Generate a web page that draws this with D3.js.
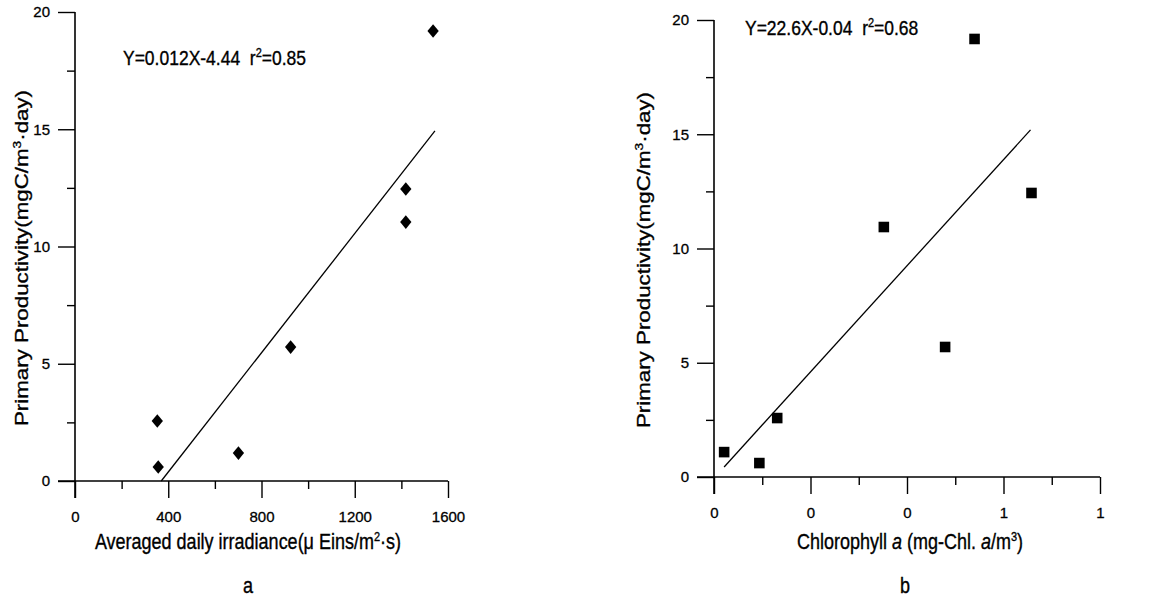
<!DOCTYPE html>
<html>
<head>
<meta charset="utf-8">
<script src="https://cdn.jsdelivr.net/npm/d3@7"></script>
<style>
  body { margin: 0; background: #fff; }
  svg text { font-family: "Liberation Sans", Arial, sans-serif; fill: #000; stroke: #000; stroke-width: 0.3; }
</style>
</head>
<body>
<div id="canvas"></div>
<script>
"use strict";

// panel a: irradiance vs productivity
const irradiance = [353, 357, 701, 925, 1419, 1419, 1536];
const productivityA = [2.56, 0.6, 1.19, 5.71, 12.45, 11.04, 19.19];
const fitA = [[370, 0], [1544, 14.93]];
const xTicksA = [0, 400, 800, 1200, 1600];
const xMinorA = [200, 600, 1000, 1400];

// panel b: chlorophyll vs productivity
const chlorophyll = [0.021, 0.094, 0.131, 0.352, 0.479, 0.540, 0.658];
const productivityB = [1.09, 0.61, 2.58, 10.94, 5.69, 19.17, 12.43];
const fitB = [[0.021, 0.44], [0.656, 15.19]];
const xTicksB = [0, 0.2, 0.4, 0.6, 0.8];
const xTickLabelsB = ["0", "0", "0", "1", "1"];
const xMinorB = [0.1, 0.3, 0.5, 0.7];

const yTicks = [0, 5, 10, 15, 20];
const yMinor = [2.5, 7.5, 12.5, 17.5];

let drawing = d3.select("#canvas")
    .append("svg")
    .attr("width", 1166)
    .attr("height", 596);

drawing.append("rect")
    .attr("width", 1166)
    .attr("height", 596)
    .attr("fill", "#fff");

// scanned figure is a bit taller than wide, so text gets stretched vertically
const stretch = 1.2;

function supText(t, parts) {
    // parts: [text, "sup"|"it"|"down"]
    parts.forEach(p => {
        let s = t.append("tspan").text(p[0]);
        if (p[1] == "sup") s.attr("font-size", 11).attr("dy", -7);
        if (p[1] == "it") s.attr("font-style", "italic");
        if (p[1] == "down") s.attr("dy", 7);
    });
}

function drawPanel(opt) {
    let g = drawing.append("g");
    let x = d3.scaleLinear().domain(opt.xDomain).range(opt.xRange);
    let y = d3.scaleLinear().domain([0, 20]).range(opt.yRange);
    let x0 = x(0), y0 = y(0);

    // y axis
    g.append("g").attr("transform", `translate(${x0},0)`)
        .call(d3.axisLeft(y).tickValues(yTicks).tickSize(17).tickPadding(8).tickFormat(d3.format("d")))
        .select(".domain").remove();
    g.append("g").attr("transform", `translate(${x0},0)`)
        .call(d3.axisLeft(y).tickValues(yMinor).tickSize(8).tickFormat(""))
        .select(".domain").remove();

    // x axis
    g.append("g").attr("transform", `translate(0,${y0})`)
        .call(d3.axisBottom(x).tickValues(opt.xTicks).tickSize(17).tickPadding(13)
            .tickFormat((d, i) => opt.xLabels[i]))
        .select(".domain").remove();
    g.append("g").attr("transform", `translate(0,${y0})`)
        .call(d3.axisBottom(x).tickValues(opt.xMinor).tickSize(8).tickFormat(""))
        .select(".domain").remove();

    g.selectAll(".tick line").attr("stroke", "#000").attr("stroke-width", 1.4);
    g.selectAll(".tick text").attr("font-size", 15).attr("font-family", null);

    // axis lines
    g.append("line").attr("x1", x0).attr("x2", x0).attr("y1", y(20)).attr("y2", y0 + 17)
        .attr("stroke", "#000").attr("stroke-width", 1.6);
    g.append("line").attr("x1", x0 - 17).attr("x2", x(opt.xDomain[1])).attr("y1", y0).attr("y2", y0)
        .attr("stroke", "#000").attr("stroke-width", 1.6);

    // fit line
    g.append("line")
        .attr("x1", x(opt.fit[0][0])).attr("y1", y(opt.fit[0][1]))
        .attr("x2", x(opt.fit[1][0])).attr("y2", y(opt.fit[1][1]))
        .attr("stroke", "#000").attr("stroke-width", 1.3);

    // points
    let sym = d3.symbol().type(d3.symbolSquare).size(opt.symbolSize);
    g.selectAll(".pt").data(opt.xs).enter().append("path")
        .attr("class", "pt")
        .attr("d", sym)
        .attr("transform", (d, i) => `translate(${x(d)},${y(opt.ys[i])})` +
            (opt.rotate ? ` scale(1,${stretch}) rotate(45)` : ""))
        .attr("fill", "#000");

    // equation
    let eq = g.append("text")
        .attr("transform", `translate(${opt.eqPos[0]},${opt.eqPos[1]}) scale(1,${stretch})`)
        .attr("font-size", 17.5);
    supText(eq, [[opt.eq[0] + "\u00a0\u00a0r"], ["2", "sup"], ["=" + opt.eq[1], "down"]]);

    // y title
    let yt = g.append("text")
        .attr("transform", `translate(${opt.yTitlePos[0]},${opt.yTitlePos[1]}) rotate(-90) scale(1.24,1)`)
        .attr("text-anchor", "middle").attr("font-size", 18);
    supText(yt, [["Primary Productivity(mgC/m"], ["3", "sup"], ["·day)", "down"]]);

    // x title
    let xt = g.append("text")
        .attr("transform", `translate(${opt.xTitlePos[0]},${opt.xTitlePos[1]}) scale(1,${stretch})`)
        .attr("text-anchor", "middle").attr("font-size", 18);
    supText(xt, opt.xTitle);

    g.append("text")
        .attr("transform", `translate(${opt.panelPos[0]},${opt.panelPos[1]}) scale(1,${stretch})`)
        .attr("text-anchor", "middle").attr("font-size", 18).text(opt.panel);
}

drawPanel({
    xDomain: [0, 1600], xRange: [75, 448], yRange: [481, 12],
    xTicks: xTicksA, xLabels: xTicksA.map(String), xMinor: xMinorA,
    xs: irradiance, ys: productivityA, fit: fitA,
    symbolSize: 64, rotate: true,
    eq: ["Y=0.012X-4.44", "0.85"], eqPos: [123, 65],
    yTitlePos: [28, 258], xTitlePos: [248, 549], panelPos: [248, 593], panel: "a",
    xTitle: [["Averaged daily irradiance(μ Eins/m"], ["2", "sup"], ["·s)", "down"]]
});

drawPanel({
    xDomain: [0, 0.8], xRange: [714, 1100], yRange: [477, 20],
    xTicks: xTicksB, xLabels: xTickLabelsB, xMinor: xMinorB,
    xs: chlorophyll, ys: productivityB, fit: fitB,
    symbolSize: 112, rotate: false,
    eq: ["Y=22.6X-0.04", "0.68"], eqPos: [745, 35],
    yTitlePos: [650, 260], xTitlePos: [910, 549], panelPos: [905, 593], panel: "b",
    xTitle: [["Chlorophyll "], ["a", "it"], [" (mg-Chl. "], ["a", "it"], ["/m"], ["3", "sup"], [")", "down"]]
});
</script>
</body>
</html>
